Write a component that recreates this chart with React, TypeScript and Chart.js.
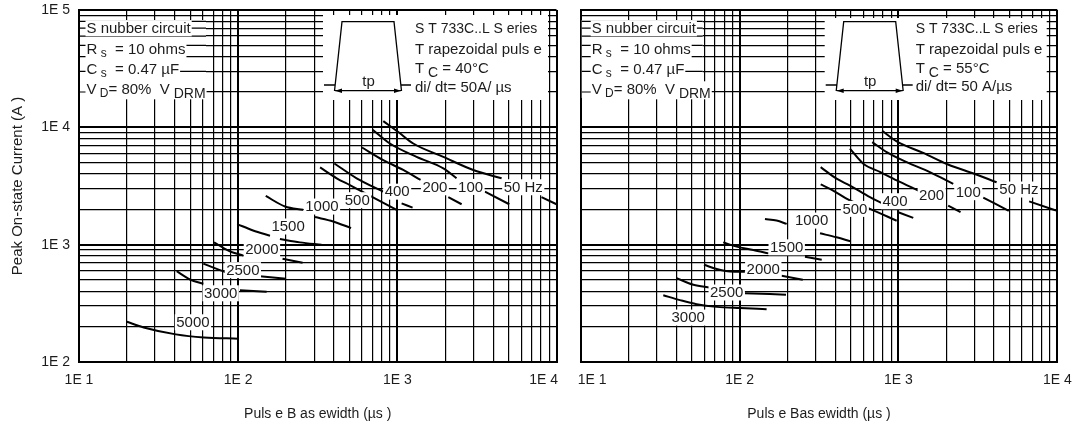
import React, { useEffect, useRef } from "react";
import { Chart, registerables } from "chart.js";

Chart.register(...registerables);

const FONT = "'Liberation Sans', Arial, Helvetica, sans-serif";
const TEXT = "#1c1c1c";
Chart.defaults.font.family = FONT;

// ---------- axis ticks ----------
const xTickDecades = [1, 2, 3, 4];
const xTickLabels = ["1E 1", "1E 2", "1E 3", "1E 4"];
const yTickDecades = [2, 3, 4, 5];
const yTickLabels = ["1E 2", "1E 3", "1E 4", "1E 5"];
const minorMultipliers = [1, 2, 3, 4, 5, 6, 7, 8, 9];

const yTitle = "Peak On-state Current (A )";
const xTitle40 = "Puls e B as ewidth (µs )";
const xTitle55 = "Puls e Bas ewidth (µs )";

// ---------- Tc = 40°C : [pulse basewidth µs, peak current A], split where the label interrupts ----------
const tc40_50Hz = [[[816, 11300], [1014, 9120], [1259, 7280], [1946, 5600], [3000, 4330], [4520, 3680]], [[8050, 2540], [10000, 2210]]];
const tc40_100Hz = [[[700, 9550], [898, 7280], [1321, 5600], [1946, 4470], [2355, 3680]], [[3550, 2830], [5050, 2210]]];
const tc40_200Hz = [[[600, 6730], [816, 5250], [1089, 4330], [1400, 3560]], [[2090, 2540], [2535, 2210]]];
const tc40_400Hz = [[[402, 4920], [555, 3680], [816, 2830]], [[1064, 2250], [1247, 2070]]];
const tc40_500Hz = [[[327, 4550], [416, 3680], [503, 3220], [990, 1980]]];
const tc40_1000Hz = [[[149, 2600], [197, 2113], [256, 1980]], [[304, 1718], [395, 1578], [512, 1384]]];
const tc40_1500Hz = [[[98.6, 1497], [124, 1322], [158.5, 1192]], [[183, 1117], [244, 1046], [334, 1000]]];
const tc40_2000Hz = [[[70.5, 1046], [88.7, 877], [108, 807]], [[190, 760], [254, 700]]];
const tc40_2500Hz = [[[60.4, 690], [73.3, 622], [83.8, 582]], [[137, 538], [200, 512]]];
const tc40_3000Hz = [[[41.1, 594], [49.8, 505], [60.4, 464]], [[102.6, 408], [151, 397]]];
const tc40_5000Hz = [[[20, 220], [25.5, 197], [40.6, 172], [61, 162], [100, 158]]];

const freqLabels40 = ["50 Hz", "100", "200", "400", "500", "1000", "1500", "2000", "2500", "3000", "5000"];
const labelAt40 = [[6180, 3085], [2885, 3105], [1722, 3085], [998, 2830], [560, 2393], [336, 2113], [206, 1429], [141, 907], [107, 606], [77.6, 385], [52, 218]];

// ---------- Tc = 55°C ----------
const tc55_50Hz = [[[790, 9350], [975, 7600], [1432, 6050], [2050, 4820], [3030, 4000], [4150, 3400]], [[6650, 2340], [10000, 1940]]];
const tc55_100Hz = [[[684, 7480], [843, 6150], [1127, 5050], [1578, 4150], [2213, 3300]], [[3420, 2520], [4950, 1940]]];
const tc55_200Hz = [[[495, 6580], [601, 4900], [770, 4150], [975, 3525], [1334, 2895]], [[2056, 2150], [2460, 1890]]];
const tc55_400Hz = [[[324, 4580], [408, 3650], [495, 3190], [662, 2540], [802, 2230]], [[997, 1890], [1240, 1690]]];
const tc55_500Hz = [[[324, 3260], [371, 2995], [495, 2380], [662, 2020], [975, 1600]]];
const tc55_1000Hz = [[[144.5, 1656], [171, 1604], [198, 1503]], [[321, 1249], [408, 1155], [500, 1067]]];
const tc55_1500Hz = [[[78.9, 1046], [95.9, 962], [122, 901], [152, 843]], [[258, 789], [329, 745]]];
const tc55_2000Hz = [[[59.7, 674], [71.8, 620], [87.1, 591], [108, 588]], [[184, 543], [250, 502]]];
const tc55_2500Hz = [[[40.2, 519], [51.2, 455], [65.2, 431]], [[108, 386], [155, 379], [196, 374]]];
const tc55_3000Hz = [[[33.1, 371], [42.2, 337], [53.7, 311], [71.8, 295], [100.7, 288], [148, 282]]];

const freqLabels55 = ["50 Hz", "100", "200", "400", "500", "1000", "1500", "2000", "2500", "3000"];
const labelAt55 = [[5730, 2950], [2750, 2800], [1618, 2624], [951, 2346], [532, 2018], [284, 1604], [198, 949], [141, 611], [83, 391], [47.5, 239]];

// ---------- inset texts ([text, style]: 0 normal, 1 small subscript, 2 lowered, 3 compact) ----------
const snubberLines = [
  [["S nubber circuit", 0]],
  [["R", 0], [" s", 1], ["  = 10 ohms", 0]],
  [["C", 0], [" s", 1], ["  = 0.47 µF", 0]],
  [["V", 0], [" D", 1], ["= 80%  V", 0], [" DRM", 2]],
];
const seriesLines40 = [
  [["S T 733C..L S eries", 3]],
  [["T rapezoidal puls e", 0]],
  [["T", 0], [" C", 2], [" = 40°C", 0]],
  [["di/ dt= 50A/ µs", 0]],
];
const seriesLines55 = [
  [["S T 733C..L S eries", 3]],
  [["T rapezoidal puls e", 0]],
  [["T", 0], [" C", 2], [" = 55°C", 0]],
  [["di/ dt= 50 A/µs", 0]],
];

// ---------- helpers ----------
const decadeTicks = (decs: number[]) => {
  const out: number[] = [];
  for (let i = 0; i < decs.length - 1; i++) minorMultipliers.forEach((m) => out.push(m * Math.pow(10, decs[i])));
  out.push(Math.pow(10, decs[decs.length - 1]));
  return out;
};
const xTickValues = decadeTicks(xTickDecades);
const yTickValues = decadeTicks(yTickDecades);
const isPow10 = (v: number) => {
  const l = Math.log10(v);
  return Math.abs(l - Math.round(l)) < 1e-9;
};
const fontOf = (style: number) => `${style === 1 ? 12 : style === 2 || style === 3 ? 14 : 15}px ${FONT}`;
const lowered = (style: number) => style === 1 || style === 2;

function drawRich(ctx: any, segs: any[], x: number, cy: number, bg: boolean) {
  let w = 0;
  const parts = segs.map(([t, st]: any) => {
    ctx.font = fontOf(st);
    const r = { t, st, x: x + w };
    w += ctx.measureText(t).width;
    return r;
  });
  const hasSub = segs.some((s: any) => lowered(s[1]));
  if (bg) {
    ctx.fillStyle = "#fff";
    ctx.fillRect(x - 1, cy - 8, w + 2, hasSub ? 18 : 16);
  }
  ctx.fillStyle = TEXT;
  ctx.textAlign = "left";
  ctx.textBaseline = "middle";
  parts.forEach((r: any) => {
    ctx.font = fontOf(r.st);
    ctx.fillText(r.t, r.x, cy + (lowered(r.st) ? 4.5 : 0.5));
  });
}

function makeDecor(p: any) {
  return {
    id: "decor",
    afterDatasetsDraw(chart: any) {
      const { ctx, chartArea: a } = chart;
      const xs = chart.scales.x;
      const ys = chart.scales.y;
      ctx.save();

      // curve labels with white background
      ctx.font = `15px ${FONT}`;
      ctx.textAlign = "center";
      ctx.textBaseline = "middle";
      p.labels.forEach((t: string, i: number) => {
        const px = xs.getPixelForValue(p.labelAt[i][0]);
        const py = ys.getPixelForValue(p.labelAt[i][1]);
        const w = ctx.measureText(t).width;
        ctx.fillStyle = "#fff";
        ctx.fillRect(px - w / 2 - 1.5, py - 8, w + 3, 16);
        ctx.fillStyle = TEXT;
        ctx.fillText(t, px, py + 0.5);
      });

      // inset 1: snubber data
      const b1 = p.box1;
      ctx.fillStyle = "#fff";
      ctx.fillRect(a.left + b1.x0, a.top + b1.y0, b1.x1 - b1.x0, b1.y1 - b1.y0);
      ctx.strokeStyle = "#000";
      ctx.lineWidth = 1.2;
      ys.ticks.forEach((t: any) => {
        const py = ys.getPixelForValue(t.value);
        if (py > a.top + b1.y0 && py < a.top + b1.y1) {
          ctx.beginPath();
          ctx.moveTo(a.left + b1.x0, py);
          ctx.lineTo(a.left + b1.x1, py);
          ctx.stroke();
        }
      });
      p.box1Lines.forEach((segs: any, i: number) => drawRich(ctx, segs, a.left + p.box1TextX, a.top + p.lineY[i], true));

      // inset 2: pulse sketch + series data
      const b2 = p.box2;
      ctx.fillStyle = "#fff";
      ctx.fillRect(a.left + b2.x0, a.top + b2.y0, b2.x1 - b2.x0, b2.y1 - b2.y0);
      const L = a.left, T = a.top;
      ctx.strokeStyle = "#000";
      ctx.lineWidth = 1.3;
      ctx.beginPath();
      ctx.moveTo(L + 255.5, T + 81);
      ctx.lineTo(L + 263, T + 11.7);
      ctx.lineTo(L + 315, T + 11.7);
      ctx.lineTo(L + 322.5, T + 81);
      ctx.moveTo(L + 245, T + 75);
      ctx.lineTo(L + 256.2, T + 75);
      ctx.moveTo(L + 321.8, T + 75);
      ctx.lineTo(L + 332, T + 75);
      ctx.moveTo(L + 256, T + 80.7);
      ctx.lineTo(L + 322, T + 80.7);
      ctx.stroke();
      ctx.fillStyle = "#000";
      ctx.beginPath();
      ctx.moveTo(L + 256, T + 80.7);
      ctx.lineTo(L + 263, T + 78.4);
      ctx.lineTo(L + 263, T + 83);
      ctx.closePath();
      ctx.moveTo(L + 322, T + 80.7);
      ctx.lineTo(L + 315, T + 78.4);
      ctx.lineTo(L + 315, T + 83);
      ctx.closePath();
      ctx.fill();
      ctx.font = `15px ${FONT}`;
      ctx.textAlign = "center";
      ctx.textBaseline = "middle";
      ctx.fillStyle = TEXT;
      ctx.fillText("tp", L + 289.5, T + 72);
      p.box2Lines.forEach((segs: any, i: number) => drawRich(ctx, segs, a.left + p.box2TextX, a.top + p.line2Y[i], false));

      // x tick labels
      ctx.font = `14px ${FONT}`;
      ctx.fillStyle = TEXT;
      ctx.textBaseline = "middle";
      xTickDecades.forEach((d, i) => {
        const px = xs.getPixelForValue(Math.pow(10, d));
        let align = "center";
        let dx = 0;
        if (i === 0 && p.firstXAlign === "left") { align = "left"; dx = -3; }
        if (i === xTickDecades.length - 1 && p.lastXAlign === "right") { align = "right"; dx = 1.5; }
        ctx.textAlign = align;
        ctx.fillText(xTickLabels[i], px + dx, a.bottom + 18.5);
      });
      ctx.restore();
    },
  };
}

const noPad = (s: any) => {
  s.paddingTop = 0;
  s.paddingBottom = 0;
  s.paddingLeft = 0;
  s.paddingRight = 0;
};

function makeConfig(p: any) {
  const datasets: any[] = [];
  p.curves.forEach((curve: any) => {
    curve.forEach((seg: number[][]) => {
      datasets.push({
        data: seg.map(([x, y]) => ({ x, y })),
        borderColor: "#000",
        borderWidth: 2,
        pointRadius: 0,
        pointHoverRadius: 0,
        fill: false,
        cubicInterpolationMode: "monotone",
      });
    });
  });
  const gridW = (c: any) => (c.tick && isPow10(c.tick.value) ? 2 : 1.2);
  return {
    type: "line",
    data: { datasets },
    options: {
      responsive: false,
      animation: false,
      events: [],
      layout: { autoPadding: false, padding: { left: 0, right: p.padRight, top: 10, bottom: 0 } },
      plugins: { legend: { display: false }, tooltip: { enabled: false } },
      scales: {
        x: {
          type: "logarithmic",
          position: "bottom",
          min: 10,
          max: 10000,
          afterBuildTicks: (s: any) => { s.ticks = xTickValues.map((v) => ({ value: v })); },
          afterFit: (s: any) => { s.height = 68; noPad(s); },
          ticks: { display: false, autoSkip: false },
          grid: { color: "#000", lineWidth: gridW, drawTicks: false },
          border: { display: true, color: "#000", width: 2 },
          title: { display: true, text: p.xTitle, color: TEXT, font: { family: FONT, size: 14 }, padding: { top: 0, bottom: 7.6 } },
        },
        y: {
          type: "logarithmic",
          position: "left",
          min: 100,
          max: 100000,
          afterBuildTicks: (s: any) => { s.ticks = yTickValues.map((v) => ({ value: v })); },
          afterFit: (s: any) => { s.width = p.yWidth; noPad(s); },
          ticks: {
            display: p.showY,
            autoSkip: false,
            padding: 9,
            color: TEXT,
            font: { family: FONT, size: 14 },
            callback: (v: any) => {
              const idx = yTickDecades.indexOf(Math.round(Math.log10(v)));
              return isPow10(v) && idx >= 0 ? yTickLabels[idx] : "";
            },
          },
          grid: { color: "#000", lineWidth: gridW, drawTicks: false },
          border: { display: true, color: "#000", width: 2 },
          title: { display: p.showY, text: yTitle, color: TEXT, font: { family: FONT, size: 15 }, padding: { top: 9, bottom: 0 } },
        },
      },
    },
    plugins: [makeDecor(p)],
  };
}

const panel40 = {
  curves: [tc40_50Hz, tc40_100Hz, tc40_200Hz, tc40_400Hz, tc40_500Hz, tc40_1000Hz, tc40_1500Hz, tc40_2000Hz, tc40_2500Hz, tc40_3000Hz, tc40_5000Hz],
  labels: freqLabels40,
  labelAt: labelAt40,
  xTitle: xTitle40,
  showY: true,
  yWidth: 79,
  padRight: 11.5,
  firstXAlign: "center",
  lastXAlign: "right",
  box1: { x0: 1, x1: 127, y0: 10, y1: 88 },
  box1TextX: 7.5,
  box1Lines: snubberLines,
  lineY: [18.3, 39.5, 59.3, 79.3],
  box2: { x0: 244, x1: 469, y0: 5, y1: 90 },
  box2TextX: 336,
  box2Lines: seriesLines40,
  line2Y: [18.3, 39.8, 58.3, 77.3],
};

const panel55 = {
  curves: [tc55_50Hz, tc55_100Hz, tc55_200Hz, tc55_400Hz, tc55_500Hz, tc55_1000Hz, tc55_1500Hz, tc55_2000Hz, tc55_2500Hz, tc55_3000Hz],
  labels: freqLabels55,
  labelAt: labelAt55,
  xTitle: xTitle55,
  showY: false,
  yWidth: 12.7,
  padRight: 16.7,
  firstXAlign: "left",
  lastXAlign: "center",
  box1: { x0: 1, x1: 122, y0: 10, y1: 88 },
  box1TextX: 11,
  box1Lines: snubberLines,
  lineY: [18.3, 39.5, 59.3, 79.3],
  box2: { x0: 244, x1: 466, y0: 8, y1: 90 },
  box2TextX: 335,
  box2Lines: seriesLines55,
  line2Y: [18.3, 39.8, 58.3, 76.5],
};

function Panel({ p, left, width }: any) {
  const ref = useRef<HTMLCanvasElement>(null);
  useEffect(() => {
    const chart = new Chart(ref.current as any, makeConfig(p) as any);
    return () => chart.destroy();
  }, []);
  return (
    <canvas
      ref={ref}
      width={width}
      height={430}
      style={{ position: "absolute", left, top: 0, width, height: 430 }}
    />
  );
}

export default function App() {
  useEffect(() => {
    document.body.style.margin = "0";
  }, []);
  return (
    <div style={{ position: "relative", width: 1074, height: 430, background: "#fff" }}>
      <Panel p={panel40} left={0} width={568} />
      <Panel p={panel55} left={568} width={506} />
    </div>
  );
}
